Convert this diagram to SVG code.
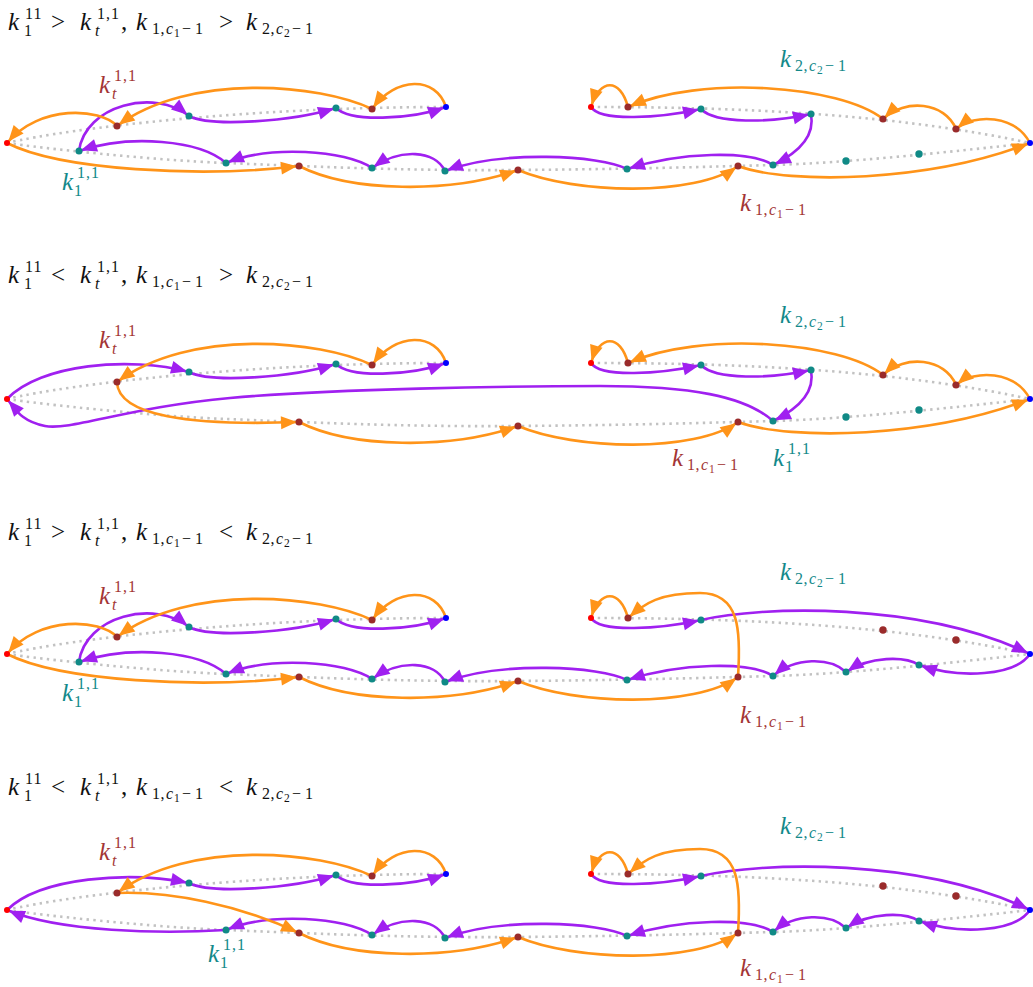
<svg xmlns="http://www.w3.org/2000/svg" width="1033" height="987" viewBox="0 0 1033 987">
<style>
text{font-family:"Liberation Serif","DejaVu Serif",serif}
.m{font-family:"Liberation Serif","DejaVu Serif",serif;font-size:25px}
.i{font-style:italic}
.s{font-size:16px}
.ss{font-size:11.5px}
.br{fill:#a33535}.tl{fill:#13898a}.bk{fill:#111}
.d{fill:none;stroke:#c2c2c2;stroke-width:2.6;stroke-dasharray:2.4 4.3}
.o{fill:none;stroke:#ff9419;stroke-width:2.6;marker-end:url(#ah-o)}
.p{fill:none;stroke:#a020f0;stroke-width:2.6;marker-end:url(#ah-p)}
.nt{fill:#108a86}.nb{fill:#9a2b2b}.nr{fill:#ff0000}.nu{fill:#0000ff}
</style>
<defs>
<marker id="ah-o" viewBox="0 0 16 13" refX="18" refY="6.5" markerWidth="16" markerHeight="13" markerUnits="userSpaceOnUse" orient="auto" overflow="visible"><path d="M0,0 L16,6.5 L0,13 Z" fill="#ff9419"/></marker>
<marker id="ah-p" viewBox="0 0 16 13" refX="18" refY="6.5" markerWidth="16" markerHeight="13" markerUnits="userSpaceOnUse" orient="auto" overflow="visible"><path d="M0,0 L16,6.5 L0,13 Z" fill="#a020f0"/></marker>
</defs>
<rect width="1033" height="987" fill="#fff"/>

<!-- ================= PANEL 1 ================= -->
<g id="panel1">
<text class="m bk"><tspan class="i" x="8" y="30">k</tspan><tspan class="s" x="25 33.5" y="19">11</tspan><tspan class="s" x="24" y="36">1</tspan><tspan x="51" y="30">&gt;</tspan><tspan class="i" x="80" y="30">k</tspan><tspan class="s" x="97 106 111" y="19">1,1</tspan><tspan class="s i" x="95" y="36">t</tspan><tspan x="121" y="30">,</tspan><tspan class="i" x="136" y="30">k</tspan><tspan class="s" x="152 160.5" y="34">1,</tspan><tspan class="s i" x="166">c</tspan><tspan class="ss" x="174" y="37">1</tspan><tspan class="s" x="182 195" y="34">−1</tspan><tspan x="219" y="30">&gt;</tspan><tspan class="i" x="246" y="30">k</tspan><tspan class="s" x="262 270.5" y="34">2,</tspan><tspan class="s i" x="276">c</tspan><tspan class="ss" x="284" y="37">2</tspan><tspan class="s" x="292 305" y="34">−1</tspan></text>
<g id="p1-dots" class="d">
<path d="M7,143 C 70,128 250,107 446,107"/>
<path d="M7,143 C 40,148 150,160 226,163 S 400,171 518,170 S 700,167 773,165 S 950,152 1030,143"/>
<path d="M591,107 C 750,107 900,115 1030,143"/>
</g>
<g id="p1-connectors">
<path class="p" d="M591,107 C 600,122 660,118 701,109"/>
<path class="p" d="M701,109 C 715,124 770,123 811,114"/>
<path class="p" d="M811,114 C 815,135 800,152 773,165"/>
<path class="p" d="M773,165 C 750,150 680,152 627,169"/>
<path class="p" d="M627,169 C 600,155 500,150 445,171"/>
<path class="p" d="M445,171 C 435,150 400,148 372,168"/>
<path class="p" d="M372,168 C 345,150 270,145 226,163"/>
<path class="p" d="M226,163 C 200,140 130,134 79,151"/>
<path class="p" d="M79,151 C 85,105 155,88 189,116"/>
<path class="p" d="M189,116 C 210,127 290,122 336,108"/>
<path class="p" d="M336,108 C 350,122 410,120 446,107"/>
<path class="o" d="M446,107 C 436,76 396,76 372,109"/>
<path class="o" d="M372,109 C 320,84 190,72 117,126"/>
<path class="o" d="M117,126 C 100,108 40,104 7,143"/>
<path class="o" d="M7,143 C 60,170 200,178 299,166"/>
<path class="o" d="M299,166 C 350,192 450,194 518,170"/>
<path class="o" d="M518,170 C 575,194 695,197 738,166"/>
<path class="o" d="M738,166 C 790,185 930,182 1030,143"/>
<path class="o" d="M1030,143 C 1015,115 975,113 956,129"/>
<path class="o" d="M956,129 C 945,102 905,98 883,119"/>
<path class="o" d="M883,119 C 840,85 700,75 628,107"/>
<path class="o" d="M628,107 C 620,78 600,78 591,107"/>
</g>
<g id="p1-n-red-l"><circle class="nr" cx="7" cy="143" r="3"/></g>
<g id="p1-n-kt"><circle class="nb" cx="117" cy="126" r="3.5"/></g>
<g id="p1-n-t189"><circle class="nt" cx="189" cy="116" r="3.5"/></g>
<g id="p1-n-t336"><circle class="nt" cx="336" cy="108" r="3.5"/></g>
<g id="p1-n-b372"><circle class="nb" cx="372" cy="109" r="3.5"/></g>
<g id="p1-n-blue-l"><circle class="nu" cx="446" cy="107" r="3"/></g>
<g id="p1-n-k1"><circle class="nt" cx="79" cy="151" r="3.5"/></g>
<g id="p1-n-t226"><circle class="nt" cx="226" cy="163" r="3.5"/></g>
<g id="p1-n-b299"><circle class="nb" cx="299" cy="166" r="3.5"/></g>
<g id="p1-n-t372"><circle class="nt" cx="372" cy="168" r="3.5"/></g>
<g id="p1-n-t445"><circle class="nt" cx="445" cy="171" r="3.5"/></g>
<g id="p1-n-b518"><circle class="nb" cx="518" cy="170" r="3.5"/></g>
<g id="p1-n-t627"><circle class="nt" cx="627" cy="169" r="3.5"/></g>
<g id="p1-n-b738"><circle class="nb" cx="738" cy="166" r="3.5"/></g>
<g id="p1-n-t773"><circle class="nt" cx="773" cy="165" r="3.5"/></g>
<g id="p1-n-t846"><circle class="nt" cx="846" cy="161" r="3.7"/></g>
<g id="p1-n-t919"><circle class="nt" cx="919" cy="154" r="3.7"/></g>
<g id="p1-n-blue-r"><circle class="nu" cx="1030" cy="143" r="3"/></g>
<g id="p1-n-red-r"><circle class="nr" cx="591" cy="107" r="3"/></g>
<g id="p1-n-b628"><circle class="nb" cx="628" cy="107" r="3.5"/></g>
<g id="p1-n-t701"><circle class="nt" cx="701" cy="109" r="3.5"/></g>
<g id="p1-n-t811"><circle class="nt" cx="811" cy="114" r="3.5"/></g>
<g id="p1-n-b883"><circle class="nb" cx="883" cy="119" r="3.5"/></g>
<g id="p1-n-b956"><circle class="nb" cx="956" cy="129" r="3.5"/></g>
<text class="m br"><tspan class="i" x="99" y="93">k</tspan><tspan class="s" x="114 123 128" y="81">1,1</tspan><tspan class="s i" x="112" y="99">t</tspan></text>
<text class="m tl"><tspan class="i" x="62" y="190">k</tspan><tspan class="s" x="77 86 91" y="178">1,1</tspan><tspan class="s" x="74" y="196">1</tspan></text>
<text class="m tl"><tspan class="i" x="780" y="67">k</tspan><tspan class="s" x="795 803.5" y="71">2,</tspan><tspan class="s i" x="809">c</tspan><tspan class="ss" x="817" y="74">2</tspan><tspan class="s" x="825 838" y="71">−1</tspan></text>
<text class="m br"><tspan class="i" x="740" y="211">k</tspan><tspan class="s" x="755 763.5" y="215">1,</tspan><tspan class="s i" x="769">c</tspan><tspan class="ss" x="777" y="218">1</tspan><tspan class="s" x="785 798" y="215">−1</tspan></text>
</g>

<!-- ================= PANEL 2 ================= -->
<g id="panel2" transform="translate(0,256)">
<text class="m bk"><tspan class="i" x="8" y="27">k</tspan><tspan class="s" x="25 33.5" y="16">11</tspan><tspan class="s" x="24" y="33">1</tspan><tspan x="51" y="27">&lt;</tspan><tspan class="i" x="80" y="27">k</tspan><tspan class="s" x="97 106 111" y="16">1,1</tspan><tspan class="s i" x="95" y="33">t</tspan><tspan x="121" y="27">,</tspan><tspan class="i" x="136" y="27">k</tspan><tspan class="s" x="152 160.5" y="31">1,</tspan><tspan class="s i" x="166">c</tspan><tspan class="ss" x="174" y="34">1</tspan><tspan class="s" x="182 195" y="31">−1</tspan><tspan x="219" y="27">&gt;</tspan><tspan class="i" x="246" y="27">k</tspan><tspan class="s" x="262 270.5" y="31">2,</tspan><tspan class="s i" x="276">c</tspan><tspan class="ss" x="284" y="34">2</tspan><tspan class="s" x="292 305" y="31">−1</tspan></text>
<g id="p2-dots" class="d">
<path d="M7,143 C 70,128 250,107 446,107"/>
<path d="M7,143 C 40,148 150,160 226,163 S 400,171 518,170 S 700,167 773,165 S 950,152 1030,143"/>
<path d="M591,107 C 750,107 900,115 1030,143"/>
</g>
<g id="p2-connectors">
<path class="p" d="M591,107 C 600,122 660,118 701,109"/>
<path class="p" d="M701,109 C 715,124 770,123 811,114"/>
<path class="p" d="M811,114 C 815,135 800,152 773,165"/>
<path class="p" d="M773,165 C 745,140 690,130 600,130 S 330,133 230,142 S 70,175 45,170 S 15,152 7,143"/>
<path class="p" d="M7,143 C 40,108 130,100 189,116"/>
<path class="p" d="M189,116 C 210,127 290,122 336,108"/>
<path class="p" d="M336,108 C 350,122 410,120 446,107"/>
<path class="o" d="M446,107 C 436,76 396,76 372,109"/>
<path class="o" d="M372,109 C 320,84 190,72 117,126"/>
<path class="o" d="M117,126 C 118,160 190,170 299,166"/>
<path class="o" d="M299,166 C 350,192 450,194 518,170"/>
<path class="o" d="M518,170 C 575,194 695,197 738,166"/>
<path class="o" d="M738,166 C 790,185 930,182 1030,143"/>
<path class="o" d="M1030,143 C 1015,115 975,113 956,129"/>
<path class="o" d="M956,129 C 945,102 905,98 883,119"/>
<path class="o" d="M883,119 C 840,85 700,75 628,107"/>
<path class="o" d="M628,107 C 620,78 600,78 591,107"/>
</g>
<g id="p2-n-red-l"><circle class="nr" cx="7" cy="143" r="3"/></g>
<g id="p2-n-kt"><circle class="nb" cx="117" cy="126" r="3.5"/></g>
<g id="p2-n-t189"><circle class="nt" cx="189" cy="116" r="3.5"/></g>
<g id="p2-n-t336"><circle class="nt" cx="336" cy="108" r="3.5"/></g>
<g id="p2-n-b372"><circle class="nb" cx="372" cy="109" r="3.5"/></g>
<g id="p2-n-blue-l"><circle class="nu" cx="446" cy="107" r="3"/></g>
<g id="p2-n-b299"><circle class="nb" cx="299" cy="166" r="3.5"/></g>
<g id="p2-n-b518"><circle class="nb" cx="518" cy="170" r="3.5"/></g>
<g id="p2-n-b738"><circle class="nb" cx="738" cy="166" r="3.5"/></g>
<g id="p2-n-k1"><circle class="nt" cx="773" cy="165" r="3.5"/></g>
<g id="p2-n-t846"><circle class="nt" cx="846" cy="161" r="3.7"/></g>
<g id="p2-n-t919"><circle class="nt" cx="919" cy="154" r="3.7"/></g>
<g id="p2-n-blue-r"><circle class="nu" cx="1030" cy="143" r="3"/></g>
<g id="p2-n-red-r"><circle class="nr" cx="591" cy="107" r="3"/></g>
<g id="p2-n-b628"><circle class="nb" cx="628" cy="107" r="3.5"/></g>
<g id="p2-n-t701"><circle class="nt" cx="701" cy="109" r="3.5"/></g>
<g id="p2-n-t811"><circle class="nt" cx="811" cy="114" r="3.5"/></g>
<g id="p2-n-b883"><circle class="nb" cx="883" cy="119" r="3.5"/></g>
<g id="p2-n-b956"><circle class="nb" cx="956" cy="129" r="3.5"/></g>
<text class="m br"><tspan class="i" x="99" y="92">k</tspan><tspan class="s" x="114 123 128" y="80">1,1</tspan><tspan class="s i" x="112" y="98">t</tspan></text>
<text class="m tl"><tspan class="i" x="780" y="67">k</tspan><tspan class="s" x="795 803.5" y="71">2,</tspan><tspan class="s i" x="809">c</tspan><tspan class="ss" x="817" y="74">2</tspan><tspan class="s" x="825 838" y="71">−1</tspan></text>
<text class="m br"><tspan class="i" x="672" y="210">k</tspan><tspan class="s" x="687 695.5" y="214">1,</tspan><tspan class="s i" x="701">c</tspan><tspan class="ss" x="709" y="217">1</tspan><tspan class="s" x="717 730" y="214">−1</tspan></text>
<text class="m tl"><tspan class="i" x="773" y="210">k</tspan><tspan class="s" x="788 797 802" y="198">1,1</tspan><tspan class="s" x="785" y="216">1</tspan></text>
</g>

<!-- ================= PANEL 3 ================= -->
<g id="panel3" transform="translate(0,511)">
<text class="m bk"><tspan class="i" x="8" y="29">k</tspan><tspan class="s" x="25 33.5" y="18">11</tspan><tspan class="s" x="24" y="35">1</tspan><tspan x="51" y="29">&gt;</tspan><tspan class="i" x="80" y="29">k</tspan><tspan class="s" x="97 106 111" y="18">1,1</tspan><tspan class="s i" x="95" y="35">t</tspan><tspan x="121" y="29">,</tspan><tspan class="i" x="136" y="29">k</tspan><tspan class="s" x="152 160.5" y="33">1,</tspan><tspan class="s i" x="166">c</tspan><tspan class="ss" x="174" y="36">1</tspan><tspan class="s" x="182 195" y="33">−1</tspan><tspan x="219" y="29">&lt;</tspan><tspan class="i" x="246" y="29">k</tspan><tspan class="s" x="262 270.5" y="33">2,</tspan><tspan class="s i" x="276">c</tspan><tspan class="ss" x="284" y="36">2</tspan><tspan class="s" x="292 305" y="33">−1</tspan></text>
<g id="p3-dots" class="d">
<path d="M7,143 C 70,128 250,107 446,107"/>
<path d="M7,143 C 40,148 150,160 226,163 S 400,171 518,170 S 700,167 773,165 S 950,152 1030,143"/>
<path d="M591,107 C 750,107 900,115 1030,143"/>
</g>
<g id="p3-connectors">
<path class="p" d="M591,107 C 600,122 660,118 701,109"/>
<path class="p" d="M701,109 C 760,95 920,90 1030,143"/>
<path class="p" d="M1030,143 C 1015,165 960,168 919,154"/>
<path class="p" d="M919,154 C 905,145 870,145 846,161"/>
<path class="p" d="M846,161 C 830,146 795,146 773,165"/>
<path class="p" d="M773,165 C 750,150 680,152 627,169"/>
<path class="p" d="M627,169 C 600,155 500,150 445,171"/>
<path class="p" d="M445,171 C 435,150 400,148 372,168"/>
<path class="p" d="M372,168 C 345,150 270,145 226,163"/>
<path class="p" d="M226,163 C 200,140 130,134 79,151"/>
<path class="p" d="M79,151 C 85,105 155,88 189,116"/>
<path class="p" d="M189,116 C 210,127 290,122 336,108"/>
<path class="p" d="M336,108 C 350,122 410,120 446,107"/>
<path class="o" d="M446,107 C 436,76 396,76 372,109"/>
<path class="o" d="M372,109 C 320,84 190,72 117,126"/>
<path class="o" d="M117,126 C 100,108 40,104 7,143"/>
<path class="o" d="M7,143 C 60,170 200,178 299,166"/>
<path class="o" d="M299,166 C 350,192 450,194 518,170"/>
<path class="o" d="M518,170 C 575,194 695,197 738,166"/>
<path class="o" d="M738,166 C 741,120 740,82 700,82 S 645,92 628,107"/>
<path class="o" d="M628,107 C 620,78 600,78 591,107"/>
</g>
<g id="p3-n-red-l"><circle class="nr" cx="7" cy="143" r="3"/></g>
<g id="p3-n-kt"><circle class="nb" cx="117" cy="126" r="3.5"/></g>
<g id="p3-n-t189"><circle class="nt" cx="189" cy="116" r="3.5"/></g>
<g id="p3-n-t336"><circle class="nt" cx="336" cy="108" r="3.5"/></g>
<g id="p3-n-b372"><circle class="nb" cx="372" cy="109" r="3.5"/></g>
<g id="p3-n-blue-l"><circle class="nu" cx="446" cy="107" r="3"/></g>
<g id="p3-n-k1"><circle class="nt" cx="79" cy="151" r="3.5"/></g>
<g id="p3-n-t226"><circle class="nt" cx="226" cy="163" r="3.5"/></g>
<g id="p3-n-b299"><circle class="nb" cx="299" cy="166" r="3.5"/></g>
<g id="p3-n-t372"><circle class="nt" cx="372" cy="168" r="3.5"/></g>
<g id="p3-n-t445"><circle class="nt" cx="445" cy="171" r="3.5"/></g>
<g id="p3-n-b518"><circle class="nb" cx="518" cy="170" r="3.5"/></g>
<g id="p3-n-t627"><circle class="nt" cx="627" cy="169" r="3.5"/></g>
<g id="p3-n-b738"><circle class="nb" cx="738" cy="166" r="3.5"/></g>
<g id="p3-n-t773"><circle class="nt" cx="773" cy="165" r="3.5"/></g>
<g id="p3-n-t846"><circle class="nt" cx="846" cy="161" r="3.5"/></g>
<g id="p3-n-t919"><circle class="nt" cx="919" cy="154" r="3.5"/></g>
<g id="p3-n-blue-r"><circle class="nu" cx="1030" cy="143" r="3"/></g>
<g id="p3-n-red-r"><circle class="nr" cx="591" cy="107" r="3"/></g>
<g id="p3-n-b628"><circle class="nb" cx="628" cy="107" r="3.5"/></g>
<g id="p3-n-t701"><circle class="nt" cx="701" cy="109" r="3.5"/></g>
<g id="p3-n-b883"><circle class="nb" cx="883" cy="119" r="3.7"/></g>
<g id="p3-n-b956"><circle class="nb" cx="956" cy="129" r="3.7"/></g>
<text class="m br"><tspan class="i" x="99" y="93">k</tspan><tspan class="s" x="114 123 128" y="81">1,1</tspan><tspan class="s i" x="112" y="99">t</tspan></text>
<text class="m tl"><tspan class="i" x="62" y="190">k</tspan><tspan class="s" x="77 86 91" y="178">1,1</tspan><tspan class="s" x="74" y="196">1</tspan></text>
<text class="m tl"><tspan class="i" x="780" y="69">k</tspan><tspan class="s" x="795 803.5" y="73">2,</tspan><tspan class="s i" x="809">c</tspan><tspan class="ss" x="817" y="76">2</tspan><tspan class="s" x="825 838" y="73">−1</tspan></text>
<text class="m br"><tspan class="i" x="740" y="212">k</tspan><tspan class="s" x="755 763.5" y="216">1,</tspan><tspan class="s i" x="769">c</tspan><tspan class="ss" x="777" y="219">1</tspan><tspan class="s" x="785 798" y="216">−1</tspan></text>
</g>

<!-- ================= PANEL 4 ================= -->
<g id="panel4" transform="translate(0,767)">
<text class="m bk"><tspan class="i" x="8" y="28">k</tspan><tspan class="s" x="25 33.5" y="17">11</tspan><tspan class="s" x="24" y="34">1</tspan><tspan x="51" y="28">&lt;</tspan><tspan class="i" x="80" y="28">k</tspan><tspan class="s" x="97 106 111" y="17">1,1</tspan><tspan class="s i" x="95" y="34">t</tspan><tspan x="121" y="28">,</tspan><tspan class="i" x="136" y="28">k</tspan><tspan class="s" x="152 160.5" y="32">1,</tspan><tspan class="s i" x="166">c</tspan><tspan class="ss" x="174" y="35">1</tspan><tspan class="s" x="182 195" y="32">−1</tspan><tspan x="219" y="28">&lt;</tspan><tspan class="i" x="246" y="28">k</tspan><tspan class="s" x="262 270.5" y="32">2,</tspan><tspan class="s i" x="276">c</tspan><tspan class="ss" x="284" y="35">2</tspan><tspan class="s" x="292 305" y="32">−1</tspan></text>
<g id="p4-dots" class="d">
<path d="M7,143 C 70,128 250,107 446,107"/>
<path d="M7,143 C 40,148 150,160 226,163 S 400,171 518,170 S 700,167 773,165 S 950,152 1030,143"/>
<path d="M591,107 C 750,107 900,115 1030,143"/>
</g>
<g id="p4-connectors">
<path class="p" d="M591,107 C 600,122 660,118 701,109"/>
<path class="p" d="M701,109 C 760,95 920,90 1030,143"/>
<path class="p" d="M1030,143 C 1015,165 960,168 919,154"/>
<path class="p" d="M919,154 C 905,145 870,145 846,161"/>
<path class="p" d="M846,161 C 830,146 795,146 773,165"/>
<path class="p" d="M773,165 C 750,150 680,152 627,169"/>
<path class="p" d="M627,169 C 600,155 500,150 445,171"/>
<path class="p" d="M445,171 C 435,150 400,148 372,168"/>
<path class="p" d="M372,168 C 345,150 270,145 226,163"/>
<path class="p" d="M226,163 C 160,167 60,165 7,143"/>
<path class="p" d="M7,143 C 40,110 130,104 189,116"/>
<path class="p" d="M189,116 C 210,127 290,122 336,108"/>
<path class="p" d="M336,108 C 350,122 410,120 446,107"/>
<path class="o" d="M446,107 C 436,76 396,76 372,109"/>
<path class="o" d="M372,109 C 320,84 190,72 117,126"/>
<path class="o" d="M117,126 C 170,124 240,138 299,166"/>
<path class="o" d="M299,166 C 350,192 450,194 518,170"/>
<path class="o" d="M518,170 C 575,194 695,197 738,166"/>
<path class="o" d="M738,166 C 741,120 740,82 700,82 S 645,92 628,107"/>
<path class="o" d="M628,107 C 620,78 600,78 591,107"/>
</g>
<g id="p4-n-red-l"><circle class="nr" cx="7" cy="143" r="3"/></g>
<g id="p4-n-kt"><circle class="nb" cx="117" cy="126" r="3.5"/></g>
<g id="p4-n-t189"><circle class="nt" cx="189" cy="116" r="3.5"/></g>
<g id="p4-n-t336"><circle class="nt" cx="336" cy="108" r="3.5"/></g>
<g id="p4-n-b372"><circle class="nb" cx="372" cy="109" r="3.5"/></g>
<g id="p4-n-blue-l"><circle class="nu" cx="446" cy="107" r="3"/></g>
<g id="p4-n-k1"><circle class="nt" cx="226" cy="163" r="3.5"/></g>
<g id="p4-n-b299"><circle class="nb" cx="299" cy="166" r="3.5"/></g>
<g id="p4-n-t372"><circle class="nt" cx="372" cy="168" r="3.5"/></g>
<g id="p4-n-t445"><circle class="nt" cx="445" cy="171" r="3.5"/></g>
<g id="p4-n-b518"><circle class="nb" cx="518" cy="170" r="3.5"/></g>
<g id="p4-n-t627"><circle class="nt" cx="627" cy="169" r="3.5"/></g>
<g id="p4-n-b738"><circle class="nb" cx="738" cy="166" r="3.5"/></g>
<g id="p4-n-t773"><circle class="nt" cx="773" cy="165" r="3.5"/></g>
<g id="p4-n-t846"><circle class="nt" cx="846" cy="161" r="3.5"/></g>
<g id="p4-n-t919"><circle class="nt" cx="919" cy="154" r="3.5"/></g>
<g id="p4-n-blue-r"><circle class="nu" cx="1030" cy="143" r="3"/></g>
<g id="p4-n-red-r"><circle class="nr" cx="591" cy="107" r="3"/></g>
<g id="p4-n-b628"><circle class="nb" cx="628" cy="107" r="3.5"/></g>
<g id="p4-n-t701"><circle class="nt" cx="701" cy="109" r="3.5"/></g>
<g id="p4-n-b883"><circle class="nb" cx="883" cy="119" r="3.7"/></g>
<g id="p4-n-b956"><circle class="nb" cx="956" cy="129" r="3.7"/></g>
<text class="m br"><tspan class="i" x="99" y="93">k</tspan><tspan class="s" x="114 123 128" y="81">1,1</tspan><tspan class="s i" x="112" y="99">t</tspan></text>
<text class="m tl"><tspan class="i" x="208" y="195">k</tspan><tspan class="s" x="223 232 237" y="183">1,1</tspan><tspan class="s" x="220" y="201">1</tspan></text>
<text class="m tl"><tspan class="i" x="780" y="67">k</tspan><tspan class="s" x="795 803.5" y="71">2,</tspan><tspan class="s i" x="809">c</tspan><tspan class="ss" x="817" y="74">2</tspan><tspan class="s" x="825 838" y="71">−1</tspan></text>
<text class="m br"><tspan class="i" x="740" y="209">k</tspan><tspan class="s" x="755 763.5" y="213">1,</tspan><tspan class="s i" x="769">c</tspan><tspan class="ss" x="777" y="216">1</tspan><tspan class="s" x="785 798" y="213">−1</tspan></text>
</g>
</svg>
